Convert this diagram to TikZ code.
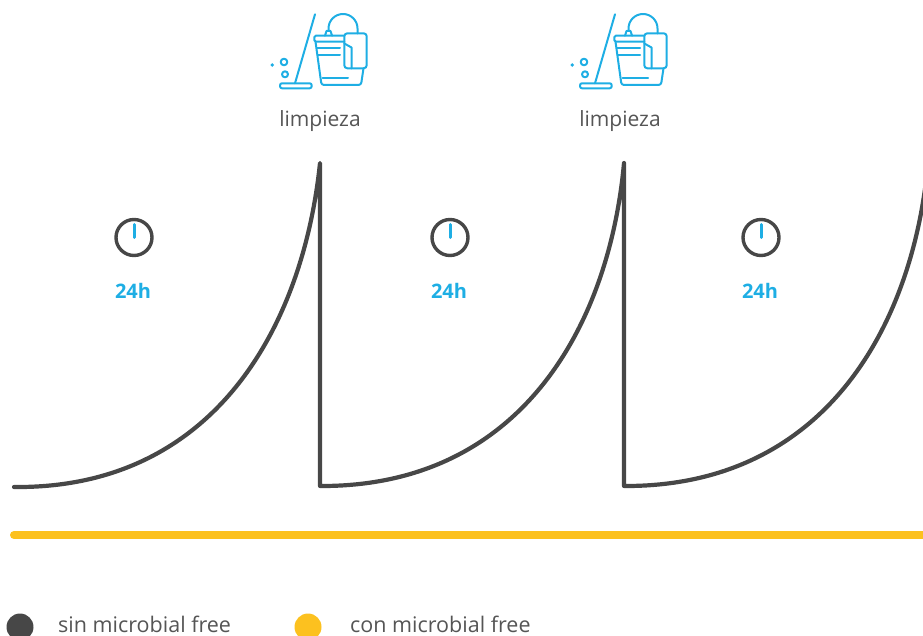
\documentclass[tikz,border=0pt]{standalone}
\usepackage{fontspec}
\setmainfont{Open Sans}
\definecolor{curvegray}{HTML}{474747}
\definecolor{txtgray}{HTML}{555555}
\definecolor{iconblue}{HTML}{1EAEE4}
\definecolor{barYellow}{HTML}{FCC11F}
\tikzset{
  curveline/.style={draw=curvegray,line width=4.2pt,line cap=round,line join=round},
  iconline/.style={draw=iconblue,line width=2pt,line cap=round,line join=round},
  clockring/.style={circle,draw=curvegray,line width=3.4pt,minimum size=36pt,inner sep=0pt},
  hourlabel/.style={font=\fontsize{20}{22}\selectfont\bfseries,text=iconblue,inner sep=0pt},
  cleanlabel/.style={font=\fontsize{21}{24}\selectfont,text=txtgray,inner sep=0pt},
  legendtext/.style={font=\fontsize{21.5}{24}\selectfont,text=txtgray,inner sep=0pt,anchor=base west},
  legenddot/.style={circle,minimum size=27pt,inner sep=0pt}
}
\newcommand{\cleanicon}[1]{%
\begin{scope}[xshift=#1]
  \draw[iconline] (315,14.3) -- (295,83.3);
  \draw[iconline,rounded corners=2pt] (280,83.3) rectangle (311.7,88.3);
  \fill[iconblue] (272.3,65) circle (1.9pt);
  \draw[iconline] (284,62) circle (3.3pt);
  \draw[iconline] (285,74.3) circle (3pt);
  \draw[iconline] (325,35.7) -- (326.5,31) -- (330.5,31) -- (332,35.7);
  \draw[iconline] (328.5,31) -- (328.5,28.5) arc[start angle=180,end angle=0,radius=14.5pt] -- (357.5,33.3);
  \draw[iconline,rounded corners=1.5pt] (344.3,35.7) -- (314.3,35.7) -- (314.3,41.7) -- (344.3,41.7);
  \draw[iconline,rounded corners=2.5pt] (315.5,41.7) -- (321.5,85) -- (361,85) -- (363.5,68.3);
  \draw[iconline] (317,47.7) -- (340,47.7);
  \draw[iconline] (318,55) -- (340,55);
  \draw[iconline] (322.5,78.3) -- (348,78.3);
  \draw[iconline,rounded corners=3pt] (344.3,33.3) rectangle (366.7,68.3);
  \draw[iconline] (344.3,43.5) -- (351.5,47.5) -- (351.5,68.3);
\end{scope}}
\begin{document}
\begin{tikzpicture}[x=1pt,y=-1pt]
\useasboundingbox (0,0) rectangle (923,636);
\begin{scope}
\clip (0,0) rectangle (923,636);
% yellow bar
\coordinate (ybarL) at (14,535);
\coordinate (ybarR) at (935,535);
\draw[draw=barYellow,line width=8pt,line cap=round] (ybarL) -- (ybarR);
% curves
\coordinate (c1s) at (14,487);
\coordinate (c1t) at (320,163);
\coordinate (c2s) at (320,486);
\coordinate (c2t) at (624,163);
\coordinate (c3s) at (624,486);
\coordinate (c3t) at (928,163);
\draw[curveline] (c1s) .. controls (214,489) and (303,327) .. (c1t)
  -- (c2s) .. controls (520,487) and (609,327) .. (c2t)
  -- (c3s) .. controls (824,487) and (913,327) .. (c3t);
% legend dots (cut at the lower edge as in the reference)
\node[legenddot,fill=curvegray] (legA) at (20,627) {};
\node[legenddot,fill=barYellow] (legB) at (308,627) {};
\end{scope}
% icons
\cleanicon{0pt}
\cleanicon{300pt}
\node[cleanlabel] (clean1) at (320,121) {limpieza};
\node[cleanlabel] (clean2) at (620,121) {limpieza};
% clocks
\foreach \i/\x/\tx in {1/134/133,2/450/449,3/761/760}{
  \node[clockring] (clock\i) at (\x,237.5) {};
  \draw[iconline,line width=3pt] (\x,224.5) -- (\x,237.5);
  \node[hourlabel] (hours\i) at (\tx,291) {24h};
}
% legend texts
\node[legendtext] (legAt) at (58,632) {sin microbial free};
\node[legendtext] (legBt) at (350,632) {con microbial free};
\end{tikzpicture}
\end{document}
